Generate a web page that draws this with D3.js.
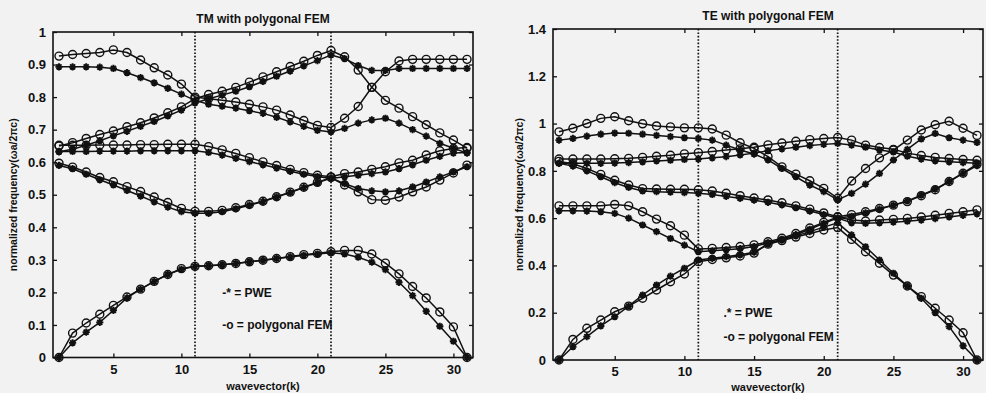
<!DOCTYPE html>
<html>
<head>
<meta charset="utf-8">
<script src="https://cdn.jsdelivr.net/npm/d3@7"></script>
<style>
body { margin: 0; background: #f2f2f2; }
svg text { font-family: "Liberation Sans", Arial, sans-serif; font-weight: bold; fill: #111; }
</style>
</head>
<body>
<svg id="chart" width="986" height="393"></svg>
<script>
// wavevector index along the path (G -> X -> M -> G)
const kPoints = [1,2,3,4,5,6,7,8,9,10,11,12,13,14,15,16,17,18,19,20,21,22,23,24,25,26,27,28,29,30,31];
const symmetryK = [11, 21];
const xTicks = [5, 10, 15, 20, 25, 30];
const tmYTicks = [0, 0.1, 0.2, 0.3, 0.4, 0.5, 0.6, 0.7, 0.8, 0.9, 1];
const teYTicks = [0, 0.2, 0.4, 0.6, 0.8, 1, 1.2, 1.4];

// TM bands, PWE
const tmPwe1 = [0,0.045,0.078,0.108,0.145,0.183,0.21,0.234,0.255,0.271,0.28, 0.282,0.285,0.289,0.294,0.299,0.304,0.309,0.314,0.318,0.322, 0.318,0.308,0.293,0.27,0.231,0.19,0.142,0.096,0.05,0];
const tmPwe2 = [0.59,0.58,0.563,0.546,0.53,0.513,0.496,0.478,0.462,0.448,0.443, 0.443,0.448,0.457,0.468,0.479,0.493,0.507,0.522,0.537,0.551, 0.534,0.519,0.512,0.509,0.512,0.524,0.539,0.555,0.57,0.586];
const tmPwe3 = [0.633,0.633,0.633,0.634,0.634,0.634,0.635,0.635,0.635,0.635,0.635, 0.63,0.622,0.612,0.602,0.592,0.582,0.572,0.563,0.556,0.55, 0.555,0.56,0.565,0.57,0.58,0.592,0.606,0.618,0.628,0.63];
const tmPwe4 = [0.632,0.64,0.652,0.666,0.681,0.695,0.71,0.725,0.742,0.76,0.782, 0.795,0.806,0.818,0.832,0.848,0.864,0.88,0.896,0.912,0.929, 0.918,0.897,0.882,0.882,0.888,0.888,0.888,0.888,0.888,0.888];
const tmPwe5 = [0.893,0.893,0.893,0.892,0.888,0.875,0.86,0.844,0.827,0.809,0.79, 0.778,0.772,0.766,0.758,0.75,0.738,0.724,0.71,0.698,0.693, 0.704,0.72,0.73,0.735,0.72,0.7,0.68,0.658,0.643,0.628];

// TM bands, polygonal FEM
const tmFem1 = [0,0.075,0.106,0.133,0.16,0.186,0.21,0.234,0.255,0.273,0.28, 0.282,0.285,0.289,0.294,0.299,0.304,0.31,0.316,0.32,0.325, 0.329,0.329,0.318,0.29,0.257,0.218,0.183,0.14,0.094,0];
const tmFem2 = [0.597,0.585,0.57,0.553,0.54,0.525,0.51,0.493,0.476,0.458,0.449, 0.449,0.452,0.46,0.47,0.48,0.494,0.508,0.523,0.538,0.553, 0.53,0.509,0.485,0.483,0.493,0.509,0.524,0.545,0.567,0.591];
const tmFem3 = [0.652,0.652,0.652,0.653,0.653,0.653,0.654,0.654,0.655,0.655,0.655, 0.648,0.638,0.627,0.614,0.601,0.59,0.578,0.568,0.56,0.555, 0.565,0.57,0.578,0.586,0.598,0.606,0.622,0.635,0.642,0.645];
const tmFem4 = [0.65,0.66,0.673,0.685,0.696,0.709,0.721,0.736,0.752,0.77,0.795, 0.808,0.818,0.83,0.846,0.862,0.878,0.894,0.91,0.928,0.943, 0.924,0.883,0.83,0.79,0.766,0.74,0.715,0.69,0.668,0.643];
const tmFem5 = [0.926,0.931,0.934,0.937,0.945,0.937,0.914,0.89,0.868,0.84,0.8, 0.795,0.79,0.785,0.778,0.77,0.76,0.745,0.728,0.713,0.707, 0.735,0.771,0.83,0.878,0.911,0.916,0.916,0.916,0.916,0.916];

// TE bands, PWE
const tePwe1 = [0,0.056,0.099,0.144,0.183,0.228,0.275,0.317,0.355,0.388,0.423, 0.43,0.437,0.445,0.456,0.49,0.507,0.525,0.543,0.562,0.58, 0.529,0.479,0.423,0.367,0.313,0.261,0.2,0.141,0.06,0];
const tePwe2 = [0.631,0.631,0.63,0.627,0.62,0.6,0.571,0.543,0.514,0.486,0.458, 0.462,0.466,0.471,0.48,0.495,0.51,0.53,0.553,0.578,0.6, 0.58,0.578,0.58,0.583,0.587,0.592,0.598,0.605,0.612,0.618];
const tePwe3 = [0.832,0.82,0.8,0.775,0.75,0.73,0.715,0.712,0.71,0.708,0.705, 0.7,0.692,0.684,0.676,0.667,0.656,0.644,0.63,0.615,0.6, 0.608,0.622,0.638,0.655,0.673,0.697,0.723,0.755,0.79,0.822];
const tePwe4 = [0.832,0.832,0.832,0.832,0.833,0.835,0.838,0.842,0.845,0.848,0.85, 0.855,0.86,0.867,0.875,0.885,0.893,0.9,0.907,0.912,0.916, 0.909,0.9,0.888,0.88,0.862,0.85,0.842,0.838,0.835,0.832];
const tePwe5 = [0.93,0.937,0.947,0.955,0.96,0.959,0.955,0.95,0.945,0.94,0.937, 0.93,0.909,0.888,0.871,0.846,0.81,0.775,0.74,0.712,0.677, 0.705,0.744,0.789,0.846,0.891,0.935,0.958,0.94,0.93,0.92];

// TE bands, polygonal FEM
const teFem1 = [0,0.087,0.134,0.169,0.204,0.228,0.261,0.296,0.331,0.364,0.416, 0.425,0.432,0.44,0.452,0.49,0.505,0.52,0.535,0.55,0.56, 0.51,0.458,0.409,0.359,0.313,0.268,0.219,0.169,0.115,0];
const teFem2 = [0.652,0.652,0.652,0.652,0.658,0.652,0.627,0.596,0.568,0.528,0.47, 0.472,0.476,0.48,0.487,0.5,0.515,0.535,0.558,0.582,0.605, 0.592,0.588,0.592,0.595,0.599,0.605,0.612,0.62,0.627,0.635];
const teFem3 = [0.84,0.83,0.81,0.785,0.76,0.74,0.725,0.723,0.722,0.722,0.72, 0.715,0.705,0.695,0.685,0.677,0.665,0.652,0.638,0.622,0.606, 0.615,0.627,0.641,0.655,0.67,0.695,0.72,0.755,0.79,0.828];
const teFem4 = [0.85,0.85,0.85,0.85,0.851,0.853,0.857,0.862,0.866,0.872,0.877, 0.882,0.888,0.893,0.9,0.91,0.918,0.925,0.932,0.937,0.941, 0.93,0.909,0.899,0.891,0.875,0.865,0.857,0.852,0.848,0.845];
const teFem5 = [0.965,0.98,1.0,1.022,1.029,1.012,0.999,0.99,0.986,0.982,0.982, 0.977,0.951,0.919,0.895,0.86,0.817,0.786,0.758,0.726,0.684, 0.757,0.81,0.855,0.888,0.93,0.973,0.995,1.01,0.98,0.95];

const tmLegend = ["-* = PWE", "-o = polygonal FEM"];
const teLegend = [".* = PWE", "-o = polygonal FEM"];

const panels = [
    {
        title: "TM with polygonal FEM", left: 53, right: 473, top: 32, bottom: 357.5,
        xDomain: [0.56, 31.44], yDomain: [0, 1], yTicks: tmYTicks, ylabelX: 13, xlabelY: 390,
        pwe: [tmPwe1, tmPwe2, tmPwe3, tmPwe4, tmPwe5],
        fem: [tmFem1, tmFem2, tmFem3, tmFem4, tmFem5],
        legend: tmLegend, legendAt: [13, 0.2, 0.1]
    },
    {
        title: "TE with polygonal FEM", left: 553, right: 983, top: 29, bottom: 360,
        xDomain: [0.57, 31.43], yDomain: [0, 1.4], yTicks: teYTicks, ylabelX: 519, xlabelY: 391,
        pwe: [tePwe1, tePwe2, tePwe3, tePwe4, tePwe5],
        fem: [teFem1, teFem2, teFem3, teFem4, teFem5],
        legend: teLegend, legendAt: [12.8, 0.2, 0.1]
    }
];

const svg = d3.select("#chart");

// asterisk marker (like matlab '*')
function asterisk(s) {
    const a = s * 0.7;
    return `M${-s},0H${s}M0,${-s}V${s}M${-a},${-a}L${a},${a}M${-a},${a}L${a},${-a}`;
}

function drawPanel(p) {
    const x = d3.scaleLinear().domain(p.xDomain).range([p.left, p.right]);
    const y = d3.scaleLinear().domain(p.yDomain).range([p.bottom, p.top]);
    const g = svg.append("g");

    // axes, ticks inward on all sides
    const fmt = d => d3.format("~g")(d);
    g.append("g").attr("transform", `translate(0,${p.bottom})`)
        .call(d3.axisBottom(x).tickValues(xTicks).tickSize(-4).tickPadding(7).tickFormat(fmt));
    g.append("g").attr("transform", `translate(0,${p.top})`)
        .call(d3.axisTop(x).tickValues(xTicks).tickSize(-4).tickFormat(""));
    g.append("g").attr("transform", `translate(${p.left},0)`)
        .call(d3.axisLeft(y).tickValues(p.yTicks).tickSize(-4).tickPadding(7).tickFormat(fmt));
    g.append("g").attr("transform", `translate(${p.right},0)`)
        .call(d3.axisRight(y).tickValues(p.yTicks).tickSize(-4).tickFormat(""));
    g.selectAll(".domain").remove();
    g.selectAll(".tick line").attr("stroke", "#111").attr("stroke-width", 1.3);
    g.selectAll(".tick text").style("font-size", "13px");

    g.append("rect")
        .attr("x", p.left).attr("y", p.top)
        .attr("width", p.right - p.left).attr("height", p.bottom - p.top)
        .attr("fill", "none").attr("stroke", "#111").attr("stroke-width", 1.6);

    // symmetry points
    g.selectAll(".sym").data(symmetryK).enter().append("line")
        .attr("x1", d => x(d)).attr("x2", d => x(d))
        .attr("y1", p.top).attr("y2", p.bottom)
        .attr("stroke", "#111").attr("stroke-width", 1.7)
        .attr("stroke-dasharray", "1.6,1.8");

    const line = d3.line().x((d, i) => x(kPoints[i])).y(d => y(d));

    const allBands = p.pwe.concat(p.fem);
    g.selectAll(".band").data(allBands).enter().append("path")
        .attr("d", d => line(d))
        .attr("fill", "none").attr("stroke", "#111").attr("stroke-width", 1.5);

    // PWE asterisks
    p.pwe.forEach(band => {
        g.append("g").selectAll("path").data(band).enter().append("path")
            .attr("transform", (d, i) => `translate(${x(kPoints[i])},${y(d)})`)
            .attr("d", asterisk(3.6))
            .attr("stroke", "#111").attr("stroke-width", 1.9).attr("fill", "none");
    });

    // FEM circles
    p.fem.forEach(band => {
        g.append("g").selectAll("circle").data(band).enter().append("circle")
            .attr("cx", (d, i) => x(kPoints[i])).attr("cy", d => y(d))
            .attr("r", 4)
            .attr("fill", "none").attr("stroke", "#111").attr("stroke-width", 1.4);
    });

    // labels
    const cx = (p.left + p.right) / 2;
    g.append("text").attr("x", cx).attr("y", p.top - 9)
        .attr("text-anchor", "middle").style("font-size", "12px").text(p.title);
    g.append("text").attr("x", cx).attr("y", p.xlabelY)
        .attr("text-anchor", "middle").style("font-size", "11px").text("wavevector(k)");
    g.append("text")
        .attr("transform", `translate(${p.ylabelX},${(p.top + p.bottom) / 2}) rotate(-90)`)
        .attr("text-anchor", "middle").attr("dy", "0.35em")
        .style("font-size", "10.5px").text("normalized frequency(ωa/2πc)");

    // in-plot legend text
    g.selectAll(".leg").data(p.legend).enter().append("text")
        .attr("x", x(p.legendAt[0]))
        .attr("y", (d, i) => y(p.legendAt[i + 1]))
        .attr("dy", "0.35em")
        .style("font-size", "12px")
        .text(d => d);
}

panels.forEach(drawPanel);
</script>
</body>
</html>
